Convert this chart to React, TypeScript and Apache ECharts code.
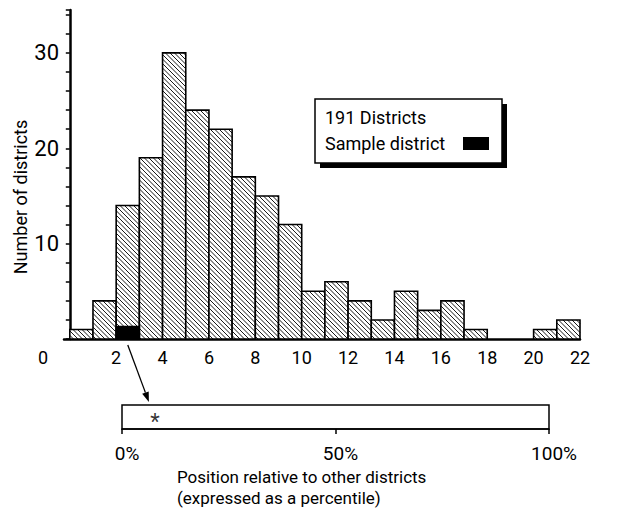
import React, { useEffect, useRef } from "react";
import * as echarts from "echarts";

// Histogram bins: each bin covers (lo, hi]
const binLower = [0, 1, 2, 3, 4, 5, 6, 7, 8, 9, 10, 11, 12, 13, 14, 15, 16, 17, 18, 19, 20, 21];
const binUpper = [1, 2, 3, 4, 5, 6, 7, 8, 9, 10, 11, 12, 13, 14, 15, 16, 17, 18, 19, 20, 21, 22];
const districtCounts = [1, 4, 14, 19, 30, 24, 22, 17, 15, 12, 5, 6, 4, 2, 5, 3, 4, 1, 0, 0, 1, 2];
// Sample district (black block) in bin 2–3
const sampleBin = [2, 3];
const sampleCount = 1;
// Percentile of the sample district
const samplePercentile = 7.7;
const xTickLabels = [2, 4, 6, 8, 10, 12, 14, 16, 18, 20, 22];
const yTickLabels = [10, 20, 30];
const pctTickLabels = [0, 50, 100];

const FONT = "Roboto";

function hatchPath(x0: number, y0: number, x1: number, y1: number, d: number) {
  let p = "";
  const cStart = Math.ceil((y0 - x1) / d) * d;
  for (let c = cStart; c <= y1 - x0; c += d) {
    const xa = Math.max(x0, y0 - c);
    const xb = Math.min(x1, y1 - c);
    if (xb > xa) {
      p += `M${xa.toFixed(2)} ${(xa + c).toFixed(2)}L${xb.toFixed(2)} ${(xb + c).toFixed(2)}`;
    }
  }
  return p;
}

export default function App() {
  const ref = useRef<HTMLDivElement>(null);
  useEffect(() => {
    if (!ref.current) return;
    const chart = echarts.init(ref.current, undefined, { renderer: "svg" });
    const histData = binLower.map((lo, i) => [lo, binUpper[i], districtCounts[i]]);

    const option: any = {
      animation: false,
      backgroundColor: "#fff",
      textStyle: { fontFamily: FONT, color: "#000" },
      grid: [
        { left: 64, right: 48, top: 10, bottom: 170 },
        {
          left: 122, right: 79, top: 405, bottom: 80,
          show: true, borderColor: "#000", borderWidth: 1.5, backgroundColor: "#fff",
        },
      ],
      xAxis: [
        {
          type: "value", gridIndex: 0, min: -0.25, max: 22, interval: 2,
          splitLine: { show: false },
          axisLine: { show: true, onZero: false, lineStyle: { color: "#000", width: 2.5 } },
          axisTick: { show: false },
          axisLabel: {
            margin: 9, fontSize: 18, color: "#000", fontFamily: FONT,
            customValues: xTickLabels,
          },
        },
        {
          type: "value", gridIndex: 1, min: 0, max: 100, interval: 50,
          splitLine: { show: false },
          axisLine: { show: true, onZero: false, lineStyle: { color: "#000", width: 1.5 } },
          axisTick: { show: true, length: 5, lineStyle: { color: "#000", width: 1.5 }, customValues: pctTickLabels },
          axisLabel: {
            margin: 15, fontSize: 19, color: "#000", fontFamily: FONT,
            customValues: pctTickLabels,
            formatter: (v: number) => `${v}%`,
            padding: [0, 0, 0, 10],
          },
        },
      ],
      yAxis: [
        {
          type: "value", gridIndex: 0, min: 0, max: 34.5, interval: 2,
          splitLine: { show: false },
          axisLine: { show: true, lineStyle: { color: "#000", width: 2.5 } },
          axisTick: { show: true, length: 4, lineStyle: { color: "#000", width: 1.5 } },
          axisLabel: {
            margin: 5, fontSize: 22, color: "#000", fontFamily: FONT,
            formatter: (v: number) => (yTickLabels.indexOf(v) >= 0 ? String(v) : ""),
          },
        },
        {
          type: "value", gridIndex: 1, min: 0, max: 1, show: false,
        },
      ],
      series: [
        {
          type: "custom",
          xAxisIndex: 0, yAxisIndex: 0,
          encode: { x: [0, 1], y: 2 },
          data: histData,
          renderItem: (params: any, api: any) => {
            const v = api.value(2);
            if (!v) return null;
            const p0 = api.coord([api.value(0), v]);
            const p1 = api.coord([api.value(1), 0]);
            const x0 = p0[0], y0 = p0[1], x1 = p1[0], y1 = p1[1];
            return {
              type: "group",
              children: [
                { type: "rect", shape: { x: x0, y: y0, width: x1 - x0, height: y1 - y0 }, style: { fill: "#fff" } },
                { type: "path", shape: { pathData: hatchPath(x0, y0, x1, y1, 4.5) }, style: { fill: null, stroke: "#000", lineWidth: 0.9 } },
                { type: "rect", shape: { x: x0, y: y0, width: x1 - x0, height: y1 - y0 }, style: { fill: null, stroke: "#000", lineWidth: 1.6 } },
              ],
            };
          },
          z: 2,
        },
        {
          type: "custom",
          xAxisIndex: 0, yAxisIndex: 0,
          encode: { x: [0, 1], y: 2 },
          data: [[sampleBin[0], sampleBin[1], sampleCount]],
          renderItem: (params: any, api: any) => {
            const p0 = api.coord([api.value(0), api.value(2)]);
            const p1 = api.coord([api.value(1), 0]);
            return {
              type: "rect",
              shape: { x: p0[0], y: p0[1] - 3, width: p1[0] - p0[0], height: p1[1] - p0[1] + 3 },
              style: { fill: "#000", stroke: "#000", lineWidth: 1.6 },
            };
          },
          z: 3,
        },
        {
          type: "scatter",
          xAxisIndex: 1, yAxisIndex: 1,
          symbolSize: 0,
          data: [[samplePercentile, 0.5]],
          label: {
            show: true, position: "inside", formatter: "*", fontSize: 22, color: "#000",
            fontFamily: FONT, offset: [0, 4],
          },
          z: 5,
        },
      ],
      graphic: [
        {
          type: "text", x: 20, y: 197, rotation: Math.PI / 2,
          style: { text: "Number of districts", font: `18px ${FONT}`, fill: "#000", align: "center", verticalAlign: "middle" },
        },
        {
          type: "text", x: 43, y: 357,
          style: { text: "0", font: `18px ${FONT}`, fill: "#000", align: "center", verticalAlign: "middle" },
        },
        { type: "rect", shape: { x: 320, y: 104, width: 187, height: 64 }, style: { fill: "#000" }, z: 10 },
        { type: "rect", shape: { x: 315, y: 99, width: 187, height: 64 }, style: { fill: "#fff", stroke: "#000", lineWidth: 1.5 }, z: 11 },
        {
          type: "text", x: 325, y: 117, z: 12,
          style: { text: "191 Districts", font: `18px ${FONT}`, fill: "#000", verticalAlign: "middle" },
        },
        {
          type: "text", x: 325, y: 143, z: 12,
          style: { text: "Sample district", font: `18px ${FONT}`, fill: "#000", verticalAlign: "middle" },
        },
        { type: "rect", shape: { x: 463, y: 137, width: 26, height: 13 }, style: { fill: "#000" }, z: 12 },
        {
          type: "text", x: 177, y: 477,
          style: { text: "Position relative to other districts", font: `17px ${FONT}`, fill: "#000", verticalAlign: "middle" },
        },
        {
          type: "text", x: 177, y: 498,
          style: { text: "(expressed as a percentile)", font: `17px ${FONT}`, fill: "#000", verticalAlign: "middle" },
        },
      ],
    };
    chart.setOption(option);

    // Arrow from the sample block to the percentile bar
    const start = chart.convertToPixel({ xAxisIndex: 0, yAxisIndex: 0 }, [(sampleBin[0] + sampleBin[1]) / 2, 0]) as number[];
    const end = chart.convertToPixel({ xAxisIndex: 1, yAxisIndex: 1 }, [samplePercentile - 1.4, 1]) as number[];
    const sx = start[0], sy = start[1] + 6;
    const ex = end[0], ey = end[1] - 3;
    const dx = ex - sx, dy = ey - sy;
    const len = Math.sqrt(dx * dx + dy * dy);
    const ux = dx / len, uy = dy / len;
    const hl = 10, hw = 3.5;
    const bx = ex - ux * hl, by = ey - uy * hl;
    chart.setOption({
      graphic: [
        ...option.graphic,
        { type: "line", shape: { x1: sx, y1: sy, x2: bx, y2: by }, style: { stroke: "#000", lineWidth: 1.3 } },
        {
          type: "polygon",
          shape: { points: [[ex, ey], [bx - uy * hw, by + ux * hw], [bx + uy * hw, by - ux * hw]] },
          style: { fill: "#000" },
        },
      ],
    });

    return () => chart.dispose();
  }, []);
  return <div ref={ref} style={{ position: "fixed", left: 0, top: 0, width: 628, height: 509 }} />;
}
